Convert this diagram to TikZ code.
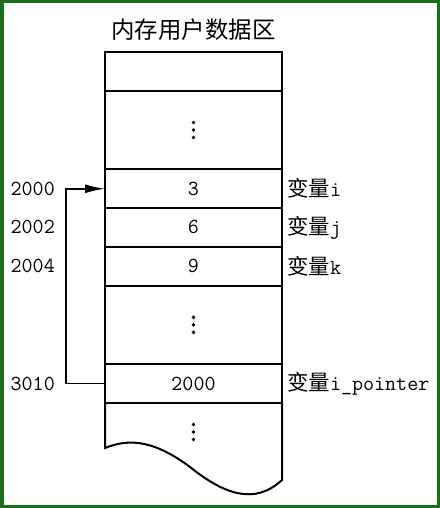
\documentclass[tikz,border=0pt]{standalone}
\usepackage{fontspec}
\newfontfamily\cjk{Noto Sans CJK SC}
\usepackage{tikz}
\usetikzlibrary{arrows.meta,positioning,calc}
\definecolor{framegreen}{RGB}{24,112,24}
\newcommand{\memfont}{\fontsize{21.5}{24}\selectfont\ttfamily}
\tikzstyle{cell}=[draw,line width=2bp,minimum width=177bp,minimum height=38.7bp,inner sep=0pt,outer sep=0pt,font=\memfont]
\tikzstyle{gapcell}=[cell,minimum height=78.7bp]
\tikzstyle{varname}=[inner sep=0pt,font=\memfont]
\tikzstyle{addr}=[inner sep=0pt,font=\memfont]
\tikzstyle{ptrline}=[line width=1.7bp,-{Latex[length=20bp,width=9bp]}]

\begin{document}
\begin{tikzpicture}[x=1bp,y=-1bp]
    \useasboundingbox (0,0) rectangle (440,508);
    \draw [framegreen,line width=3.5bp] (1.75,1.75) rectangle (438.25,506.25);
    % memory cells
    \node [cell] (top) at (193.5,71.35) {};
    \node [gapcell,below=0pt of top] (dotsa) {};
    \node [cell,below=0pt of dotsa] (vari) {3};
    \node [cell,below=0pt of vari] (varj) {6};
    \node [cell,below=0pt of varj] (vark) {9};
    \node [gapcell,below=0pt of vark] (dotsb) {};
    \node [cell,below=0pt of dotsb] (varp) {2000};
    \draw [line width=2bp] (varp.south west) -- (105,448)
      .. controls (125,440) and (150,437) .. (190,467)
      .. controls (225,495) and (255,505) .. (282,480) -- (varp.south east);
    \coordinate (dotsc) at (193.5,432);
    \foreach \c in {dotsa,dotsb,dotsc}
      \foreach \d in {-7.5,0,7.5}
        \fill ($(\c)+(0,\d)$) circle (1.9bp);
    \node [font=\cjk\fontsize{23.5}{26}\selectfont,inner sep=0pt,above=11bp of top] (title) {内存用户数据区};
    % names and addresses
    \node [varname,right=5bp of vari] (namei) {{\cjk 变量}i};
    \node [varname,right=5bp of varj] (namej) {{\cjk 变量}j};
    \node [varname,right=5bp of vark] (namek) {{\cjk 变量}k};
    \node [varname,right=5bp of varp] (namep) {{\cjk 变量}i\_pointer};
    \node [addr,left=50bp of vari] (addri) {2000};
    \node [addr,left=50bp of varj] (addrj) {2002};
    \node [addr,left=50bp of vark] (addrk) {2004};
    \node [addr,left=50bp of varp] (addrp) {3010};
    \draw [ptrline] (varp.west) -- ++(-39,0) |- (vari.west);
\end{tikzpicture}
\end{document}
